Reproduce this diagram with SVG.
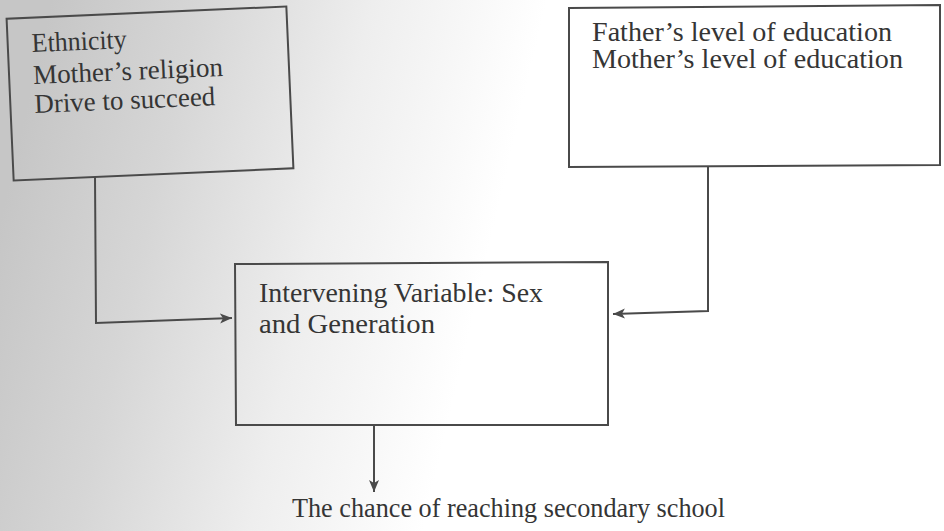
<svg xmlns="http://www.w3.org/2000/svg" width="944" height="531" viewBox="0 0 944 531">
  <style>
    .box { fill: none; stroke: #4a4a4a; stroke-width: 2; stroke-linejoin: miter; }
    .line { fill: none; stroke: #4a4a4a; stroke-width: 2; }
    .txt { font-family: "Liberation Serif", "Times New Roman", serif; font-size: 27px; fill: #353535; }
  </style>
  <defs>
    <linearGradient id="bg" gradientUnits="userSpaceOnUse" x1="0" y1="220" x2="470" y2="330">
      <stop offset="0" stop-color="#c6c6c6"/>
      <stop offset="0.3" stop-color="#d6d6d6"/>
      <stop offset="0.65" stop-color="#eeeeee"/>
      <stop offset="1" stop-color="#ffffff"/>
    </linearGradient>
    <marker id="arr" markerUnits="userSpaceOnUse" markerWidth="14" markerHeight="12" refX="12" refY="5" orient="auto">
      <path d="M0,0 L12,5 L0,10 L3,5 z" fill="#4a4a4a"/>
    </marker>
  </defs>

  <rect x="0" y="0" width="944" height="531" fill="url(#bg)"/>

  <g id="node-left" transform="rotate(-2.5 150 93.5)">
    <rect class="box" x="10" y="12.5" width="280" height="162"/>
    <text class="txt" x="34" y="47" textLength="95" lengthAdjust="spacingAndGlyphs">Ethnicity</text>
    <text class="txt" x="34" y="79" textLength="190" lengthAdjust="spacingAndGlyphs">Mother’s religion</text>
    <text class="txt" x="34" y="108" textLength="181" lengthAdjust="spacingAndGlyphs">Drive to succeed</text>
  </g>

  <g id="node-right">
    <polygon class="box" points="569,8 940,5 940,165 569,167"/>
    <text class="txt" x="592" y="41" textLength="300" lengthAdjust="spacingAndGlyphs">Father’s level of education</text>
    <text class="txt" x="592" y="68" textLength="311" lengthAdjust="spacingAndGlyphs">Mother’s level of education</text>
  </g>

  <g id="node-middle">
    <polygon class="box" points="235,264 608,262 608,425 236,425"/>
    <text class="txt" x="259" y="302" textLength="284" lengthAdjust="spacingAndGlyphs">Intervening Variable: Sex</text>
    <text class="txt" x="259" y="333" textLength="176" lengthAdjust="spacingAndGlyphs">and Generation</text>
  </g>

  <g id="node-outcome">
    <text class="txt" x="292" y="517" textLength="433" lengthAdjust="spacingAndGlyphs">The chance of reaching secondary school</text>
  </g>

  <g id="connectors">
    <polyline class="line" points="95,177 96,323 232,318" marker-end="url(#arr)"/>
    <polyline class="line" points="708,166 708,311 613,314" marker-end="url(#arr)"/>
    <line class="line" x1="374" y1="425" x2="374" y2="492" marker-end="url(#arr)"/>
  </g>
</svg>
